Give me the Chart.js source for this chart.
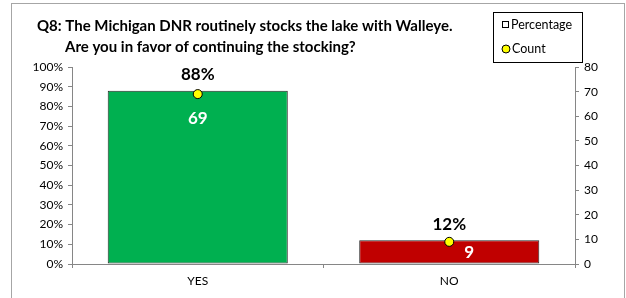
<!DOCTYPE html>
<html>
<head>
<meta charset="utf-8">
<script src="https://cdn.jsdelivr.net/npm/chart.js@4"></script>
<style>
  html, body { margin: 0; padding: 0; background: #fff; }
  #wrap { width: 626px; height: 298px; position: relative; }
</style>
</head>
<body>
<div id="wrap"><canvas id="grafica"></canvas></div>
<script>
const categorias = ['YES', 'NO'];
const porcentajes = [88, 12];
const conteos = [69, 9];
const coloresBarra = ['#00b050', '#c00000'];
const ticksPct = [0, 10, 20, 30, 40, 50, 60, 70, 80, 90, 100];
const ticksConteo = [0, 10, 20, 30, 40, 50, 60, 70, 80];
const tituloLineas = [
    'Q8: The Michigan DNR routinely stocks the lake with Walleye.',
    'Are you in favor of continuing the stocking?'
];

const FUENTE = 'Lato, "Liberation Sans", sans-serif';
const GRIS = '#868686';

// offsets for the count labels, relative to each yellow point
const offsetConteo = [[0, 24], [20, 11]];

const pluginMarco = {
    id: 'marco',
    beforeDraw(chart) {
        const ctx = chart.ctx;
        ctx.save();
        ctx.fillStyle = '#fff';
        ctx.fillRect(0, 0, chart.width, chart.height);
        ctx.strokeStyle = '#a6a6a6';
        ctx.lineWidth = 1;
        ctx.strokeRect(11.5, 3.5, 613, 310);
        ctx.restore();
    },
    afterDraw(chart) {
        const ctx = chart.ctx;
        ctx.save();
        // titulo
        ctx.fillStyle = '#000';
        ctx.font = 'bold 15px ' + FUENTE;
        ctx.textBaseline = 'middle';
        ctx.textAlign = 'left';
        ctx.fillText(tituloLineas[0], 37, 26);
        ctx.fillText(tituloLineas[1], 65, 47);

        // leyenda
        ctx.strokeStyle = '#000';
        ctx.lineWidth = 1;
        ctx.strokeRect(493.5, 12.5, 89, 50);
        ctx.strokeRect(502.5, 21.5, 6, 6);
        ctx.beginPath();
        ctx.arc(506, 49, 4, 0, Math.PI * 2);
        ctx.fillStyle = '#ffff00';
        ctx.fill();
        ctx.stroke();
        ctx.fillStyle = '#000';
        ctx.font = '12.5px ' + FUENTE;
        ctx.fillText('Percentage', 511, 25);
        ctx.fillText('Count', 512, 49);
        ctx.restore();
    }
};

const pluginEtiquetas = {
    id: 'etiquetas',
    afterDatasetsDraw(chart) {
        const ctx = chart.ctx;
        const barras = chart.getDatasetMeta(0).data;
        const puntos = chart.getDatasetMeta(1).data;
        ctx.save();
        ctx.textAlign = 'center';
        ctx.textBaseline = 'middle';
        ctx.font = 'bold 17px ' + FUENTE;
        barras.forEach((b, i) => {
            ctx.fillStyle = '#000';
            ctx.fillText(porcentajes[i] + '%', b.x, b.y - 16);
        });
        puntos.forEach((p, i) => {
            ctx.fillStyle = '#fff';
            ctx.fillText(String(conteos[i]), p.x + offsetConteo[i][0], p.y + offsetConteo[i][1]);
        });
        ctx.restore();
    }
};

function ejeY(lista, sufijo, ancho) {
    return {
        min: lista[0],
        max: lista[lista.length - 1],
        afterBuildTicks: s => { s.ticks = lista.map(v => ({ value: v })); },
        afterFit: s => { s.width = ancho; },
        ticks: {
            color: '#000',
            font: { family: FUENTE, size: 12 },
            padding: 5,
            callback: v => v + sufijo
        },
        grid: { drawOnChartArea: false, drawTicks: true, tickLength: 4, color: GRIS },
        border: { display: true, color: GRIS }
    };
}

const ejeIzq = ejeY(ticksPct, '%', 72);
ejeIzq.position = 'left';
const ejeDer = ejeY(ticksConteo, '', 51);
ejeDer.position = 'right';

new Chart(document.getElementById('grafica').getContext('2d'), {
    data: {
        labels: categorias,
        datasets: [
            {
                type: 'bar',
                label: 'Percentage',
                data: porcentajes,
                yAxisID: 'y',
                backgroundColor: coloresBarra,
                borderColor: '#262626',
                borderWidth: 1,
                borderSkipped: false,
                categoryPercentage: 1,
                barPercentage: 0.716,
                order: 2
            },
            {
                type: 'line',
                label: 'Count',
                data: conteos,
                yAxisID: 'y1',
                showLine: false,
                pointRadius: 4.5,
                pointBackgroundColor: '#ffff00',
                pointBorderColor: '#000',
                pointBorderWidth: 1,
                order: 1
            }
        ]
    },
    options: {
        responsive: true,
        maintainAspectRatio: false,
        animation: false,
        layout: { padding: { top: 67, left: 0, right: 0, bottom: 0 } },
        plugins: { legend: { display: false }, title: { display: false }, tooltip: { enabled: false } },
        scales: {
            x: {
                afterFit: s => { s.height = 34; },
                ticks: { color: '#000', font: { family: FUENTE, size: 12 }, padding: 6 },
                grid: { offset: true, drawOnChartArea: false, drawTicks: true, tickLength: 4, color: GRIS },
                border: { display: true, color: GRIS }
            },
            y: ejeIzq,
            y1: ejeDer
        }
    },
    plugins: [pluginMarco, pluginEtiquetas]
});
</script>
</body>
</html>
